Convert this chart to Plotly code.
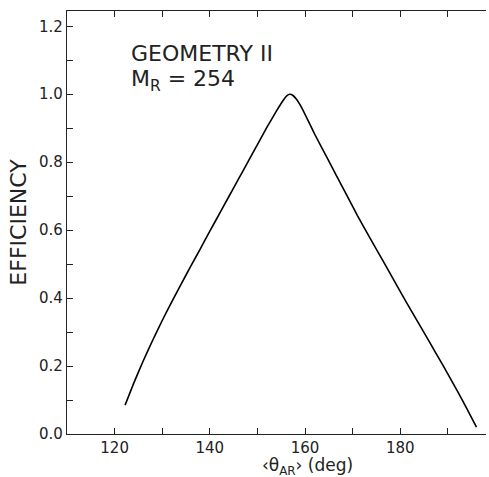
import plotly.graph_objects as go

theta = [122.2, 124, 126, 128, 130, 132, 134, 136, 138, 140, 142, 144, 146, 148, 150,
         152, 154, 155.5, 156.2, 156.8, 157.4, 158.2, 159.5, 162, 165, 168, 171, 174,
         177, 180, 183, 186, 189, 192, 194, 196]
efficiency = [0.085, 0.149, 0.215, 0.276, 0.334, 0.389, 0.442, 0.494, 0.545, 0.597, 0.648,
              0.699, 0.750, 0.801, 0.852, 0.903, 0.951, 0.984, 0.996, 1.0, 0.997, 0.985,
              0.955, 0.883, 0.803, 0.723, 0.643, 0.568, 0.494, 0.419, 0.346, 0.274, 0.201,
              0.126, 0.074, 0.02]

x_range = [110, 198]
y_range = [0, 1.245]
x_ticks = [120, 140, 160, 180]
y_ticks = [0.0, 0.2, 0.4, 0.6, 0.8, 1.0, 1.2]

FONT = "DejaVu Sans"
INK = "#222222"

fig = go.Figure()
fig.add_trace(go.Scatter(x=theta, y=efficiency, mode="lines",
                         line=dict(color="black", width=1.6, shape="spline", smoothing=0.4),
                         showlegend=False, hoverinfo="skip"))

fig.update_layout(
    width=489, height=477,
    margin=dict(l=67, r=3, t=11, b=43),
    paper_bgcolor="white", plot_bgcolor="white",
    font=dict(family=FONT, color=INK),
    xaxis=dict(range=x_range, tickvals=x_ticks, ticks="inside", ticklen=6, tickwidth=1,
               tickcolor=INK, showline=True, linecolor=INK, linewidth=1.2, mirror="ticks",
               showgrid=False, zeroline=False, tickfont=dict(size=15, family=FONT, color=INK),
               minor=dict(dtick=10, tick0=110, ticks="inside", ticklen=6, tickcolor=INK, showgrid=False)),
    yaxis=dict(range=y_range, tickvals=y_ticks, ticktext=[f"{v:.1f}" for v in y_ticks],
               ticks="inside", ticklen=6, tickwidth=1, tickcolor=INK,
               showline=True, linecolor=INK, linewidth=1.2, mirror=False,
               showgrid=False, zeroline=False, tickfont=dict(size=15, family=FONT, color=INK),
               minor=dict(dtick=0.1, tick0=0, ticks="inside", ticklen=6, tickcolor=INK, showgrid=False),
               title=dict(text="EFFICIENCY", font=dict(size=22, family=FONT, color=INK), standoff=6)),
    yaxis2=dict(range=y_range, overlaying="y", side="right", tickvals=y_ticks, ticks="inside",
                ticklen=3, tickcolor="#bbbbbb", showticklabels=False, showline=False,
                showgrid=False, zeroline=False),
)

fig.add_annotation(xref="paper", yref="paper", x=0.575, y=-0.078, xanchor="center", yanchor="middle",
                   text="‹θ<sub>AR</sub>› (deg)", showarrow=False,
                   font=dict(size=17, family=FONT, color=INK))
fig.add_annotation(xref="paper", yref="paper", x=0.148, y=0.90, xanchor="left", yanchor="middle",
                   text="GEOMETRY II", showarrow=False, font=dict(size=22, family=FONT, color=INK))
fig.add_annotation(xref="paper", yref="paper", x=0.148, y=0.835, xanchor="left", yanchor="middle",
                   text="M<sub>R</sub> = 254", showarrow=False, font=dict(size=22, family=FONT, color=INK))

fig.write_html("out.html")
